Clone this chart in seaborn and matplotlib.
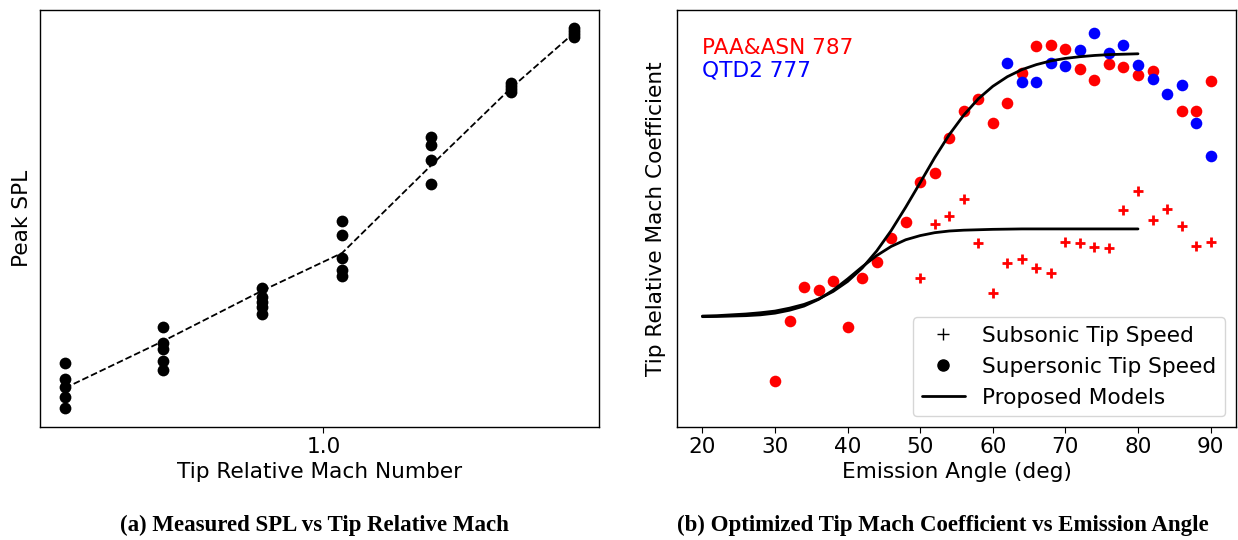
import numpy as np
import pandas as pd
import matplotlib
matplotlib.use("Agg")
import matplotlib.pyplot as plt
from matplotlib.lines import Line2D
import seaborn as sns

sns.set_style("ticks")
plt.rcParams['font.family'] = ['DejaVu Sans']
plt.rcParams.update({
    "text.color": "black",
    "axes.labelcolor": "black",
    "axes.edgecolor": "black",
    "xtick.color": "black",
    "ytick.color": "black",
    "axes.linewidth": 1.0,
})

# ---------------- Panel (a) data ----------------
mach_cols = [0.737, 0.837, 0.937, 1.019, 1.109, 1.191, 1.255]
spl_col1 = [96.43, 94.77, 94.03, 92.97, 91.93]
spl_col2 = [100.03, 98.43, 97.77, 96.63, 95.70]
spl_col3 = [103.87, 103.03, 102.53, 101.97, 101.30]
spl_col4 = [110.60, 109.20, 106.87, 105.70, 105.10]
spl_col5 = [118.97, 118.20, 116.70, 114.30]
spl_col6 = [124.40, 124.10, 123.80, 123.50]
spl_col7 = [129.90, 129.60, 129.30, 129.00]
spl_trend = [93.9, 98.6, 103.6, 107.4, 116.1, 123.9, 129.4]

# ---------------- Panel (b) data ----------------
angle_787_sup = [30, 32, 34, 36, 38, 40, 42, 44, 46, 48, 50, 52, 54, 56, 58, 60,
                 62, 64, 66, 68, 70, 72, 74, 76, 78, 80, 82, 86, 88, 90]
coef_787_sup = [0.110, 0.254, 0.336, 0.329, 0.350, 0.240, 0.357, 0.396, 0.453,
                0.492, 0.588, 0.609, 0.693, 0.758, 0.787, 0.729, 0.777, 0.849,
                0.914, 0.915, 0.906, 0.859, 0.832, 0.871, 0.863, 0.844, 0.854,
                0.758, 0.758, 0.830]
angle_777_sup = [62, 64, 66, 68, 70, 72, 74, 76, 78, 80, 82, 84, 86, 88, 90]
coef_777_sup = [0.873, 0.827, 0.827, 0.873, 0.866, 0.904, 0.945, 0.897, 0.916,
                0.868, 0.835, 0.799, 0.820, 0.729, 0.650]
angle_787_sub = [50, 52, 54, 56, 58, 60, 62, 64, 66, 68, 70, 72, 74, 76, 78, 80,
                 82, 84, 86, 88, 90]
coef_787_sub = [0.357, 0.487, 0.506, 0.547, 0.441, 0.321, 0.393, 0.403, 0.381,
                0.369, 0.444, 0.441, 0.432, 0.429, 0.520, 0.566, 0.496, 0.523,
                0.482, 0.434, 0.444]
model_angle = [20, 22, 24, 26, 28, 30, 32, 34, 36, 38, 40, 42, 44, 46, 48, 50,
               52, 54, 56, 58, 60, 62, 64, 66, 68, 70, 72, 74, 76, 78, 80]
model_sup = [0.266, 0.267, 0.269, 0.271, 0.274, 0.278, 0.285, 0.294, 0.307,
             0.325, 0.349, 0.381, 0.422, 0.471, 0.527, 0.586, 0.646, 0.701,
             0.748, 0.787, 0.817, 0.840, 0.857, 0.869, 0.878, 0.884, 0.888,
             0.891, 0.893, 0.894, 0.895]
model_sub = [0.2646, 0.265, 0.266, 0.267, 0.269, 0.273, 0.280, 0.290, 0.306,
             0.328, 0.355, 0.384, 0.411, 0.433, 0.449, 0.459, 0.466, 0.470,
             0.472, 0.473, 0.474, 0.4745, 0.475, 0.475, 0.475, 0.475, 0.475,
             0.475, 0.475, 0.475, 0.475]

FS = 15.6

fig = plt.figure(figsize=(12.38, 5.40), dpi=100)
axL = fig.add_axes([40 / 1238, 1 - 427 / 540, 559 / 1238, 417 / 540])
axR = fig.add_axes([677 / 1238, 1 - 427 / 540, 559 / 1238, 417 / 540])

# ---------- Panel (a) ----------
cols = [spl_col1, spl_col2, spl_col3, spl_col4, spl_col5, spl_col6, spl_col7]
rows = []
for m, vals in zip(mach_cols, cols):
    for v in vals:
        rows.append((m, v))
dfA = pd.DataFrame(rows, columns=["mach", "spl"])
sns.scatterplot(data=dfA, x="mach", y="spl", ax=axL, color="black", s=72,
                linewidth=0, zorder=2)
sns.lineplot(x=mach_cols, y=spl_trend, ax=axL, color="black", linestyle="--",
             linewidth=1.3, sort=False, estimator=None, zorder=3)
axL.set_xlim(0.7115, 1.2805)
axL.set_ylim(90.0, 131.7)
axL.set_xticks([1.0])
axL.set_xticklabels(["1.0"])
axL.set_yticks([])
axL.tick_params(axis="x", labelsize=FS, length=4)
axL.set_xlabel("Tip Relative Mach Number", fontsize=FS, labelpad=3)
axL.set_ylabel("Peak SPL", fontsize=FS, labelpad=6)

# ---------- Panel (b) ----------
sns.scatterplot(x=angle_787_sup, y=coef_787_sup, ax=axR, color="#ff0000",
                s=70, linewidth=0, zorder=2)
sns.scatterplot(x=angle_777_sup, y=coef_777_sup, ax=axR, color="#0000ff",
                s=70, linewidth=0, zorder=2)
sns.scatterplot(x=angle_787_sub, y=coef_787_sub, ax=axR, color="#ff0000",
                marker="+", s=60, linewidth=2, zorder=2)
sns.lineplot(x=model_angle, y=model_sup, ax=axR, color="black", linewidth=2,
             sort=False, estimator=None, zorder=3)
sns.lineplot(x=model_angle, y=model_sub, ax=axR, color="black", linewidth=2,
             sort=False, estimator=None, zorder=3)
axR.set_xlim(16.5, 93.5)
axR.set_ylim(0.0, 1.0)
axR.set_xticks([20, 30, 40, 50, 60, 70, 80, 90])
axR.set_yticks([])
axR.tick_params(axis="x", labelsize=FS, length=4)
axR.set_xlabel("Emission Angle (deg)", fontsize=FS, labelpad=3)
axR.set_ylabel("Tip Relative Mach Coefficient", fontsize=FS, labelpad=8)

axR.text(0.045, 0.894, "PAA&ASN 787", color="#ff0000", fontsize=FS,
         transform=axR.transAxes, va="baseline", ha="left")
axR.text(0.045, 0.8405, "QTD2 777", color="#0000ff", fontsize=FS,
         transform=axR.transAxes, va="baseline", ha="left")

handles = [
    Line2D([], [], marker="+", color="black", linestyle="none",
           markersize=8, markeredgewidth=1.0),
    Line2D([], [], marker="o", color="black", linestyle="none",
           markersize=8),
    Line2D([], [], color="black", linewidth=2),
]
axR.legend(handles, ["Subsonic Tip Speed", "Supersonic Tip Speed",
                     "Proposed Models"], loc="lower right", fontsize=FS,
           frameon=True)

fig.text(314 / 1238, 1 - 525 / 540, "(a) Measured SPL vs Tip Relative Mach",
         ha="center", va="center", fontsize=16.5, fontweight="bold",
         color="black", family=["Liberation Serif", "DejaVu Serif"])
fig.text(943 / 1238, 1 - 525 / 540,
         "(b) Optimized Tip Mach Coefficient vs Emission Angle",
         ha="center", va="center", fontsize=16.5, fontweight="bold",
         color="black", family=["Liberation Serif", "DejaVu Serif"])

fig.savefig("out.png", dpi=100)
